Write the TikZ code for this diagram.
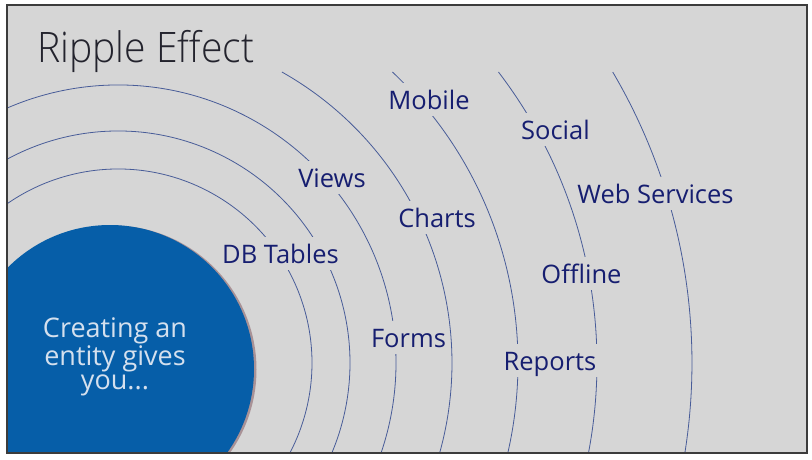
\documentclass[tikz,border=0pt]{standalone}
\usepackage{fontspec}
\IfFontExistsTF{Open Sans}{\setmainfont{Open Sans}}{\setmainfont{DejaVu Sans}}
\IfFontExistsTF{Open Sans Light}{\newfontfamily\titlefont{Open Sans Light}}{\newfontfamily\titlefont{Open Sans}}
\definecolor{slidebg}{RGB}{214,214,214}
\definecolor{framec}{RGB}{60,60,60}
\definecolor{ripplec}{RGB}{72,92,152}
\definecolor{labelc}{RGB}{22,30,112}
\definecolor{bluec}{RGB}{6,94,168}
\definecolor{shadowc}{RGB}{150,118,124}
\definecolor{circtext}{RGB}{212,224,238}
\definecolor{titlec}{RGB}{35,35,45}
\tikzset{
  ripple/.style={draw=ripplec, line width=0.8pt},
  lbl/.style={fill=slidebg, text=labelc, anchor=base, inner xsep=3pt, inner ysep=7pt,
    text height=19pt, text depth=0pt, font=\fontsize{25.5}{30}\selectfont},
}
\begin{document}
\begin{tikzpicture}[x=1pt,y=-1pt]
\useasboundingbox (0,0) rectangle (812,459);
\fill[white] (0,0) rectangle (812,459);
\fill[slidebg] (7,5) rectangle (807,453);
\begin{scope}
  \clip (7,5) rectangle (807,453);
  \coordinate (o) at (118,363);
  \foreach \r in {194,232,278}{
    \draw[ripple] ([shift={(o)}]-150:\r) arc[start angle=-150, end angle=40, radius=\r];
  }
  \foreach \r in {334,400,479,574}{
    \pgfmathsetmacro{\sa}{-asin(291/\r)}
    \draw[ripple] ([shift={(o)}]\sa:\r) arc[start angle=\sa, end angle=40, radius=\r];
  }
  \fill[shadowc, opacity=0.7] (112.5,369.5) circle[radius=144];
  \fill[bluec] (110,369) circle[radius=144];
\end{scope}
\node[anchor=base west, inner sep=0pt, text=titlec, font=\titlefont\fontsize{42}{50}\selectfont] (title) at (37,62) {\scalebox{0.93}[1]{Ripple Effect}};
\node[align=center, text=circtext, font=\fontsize{27}{24.5}\selectfont] (entity) at (115,357) {Creating an\\entity gives\\you...};
\node[lbl] (db) at (280.5,263) {DB Tables};
\node[lbl] (views) at (332,187) {Views};
\node[lbl] (charts) at (437,227) {Charts};
\node[lbl] (forms) at (408.5,347) {Forms};
\node[lbl] (mobile) at (429,109) {Mobile};
\node[lbl] (social) at (555.5,139) {Social};
\node[lbl] (webs) at (655.5,203) {Web Services};
\node[lbl] (offline) at (581.5,283) {Offline};
\node[lbl] (reports) at (550,370) {Reports};
\draw[framec, line width=1.5pt] (7,5) rectangle (807,453);
\end{tikzpicture}
\end{document}
